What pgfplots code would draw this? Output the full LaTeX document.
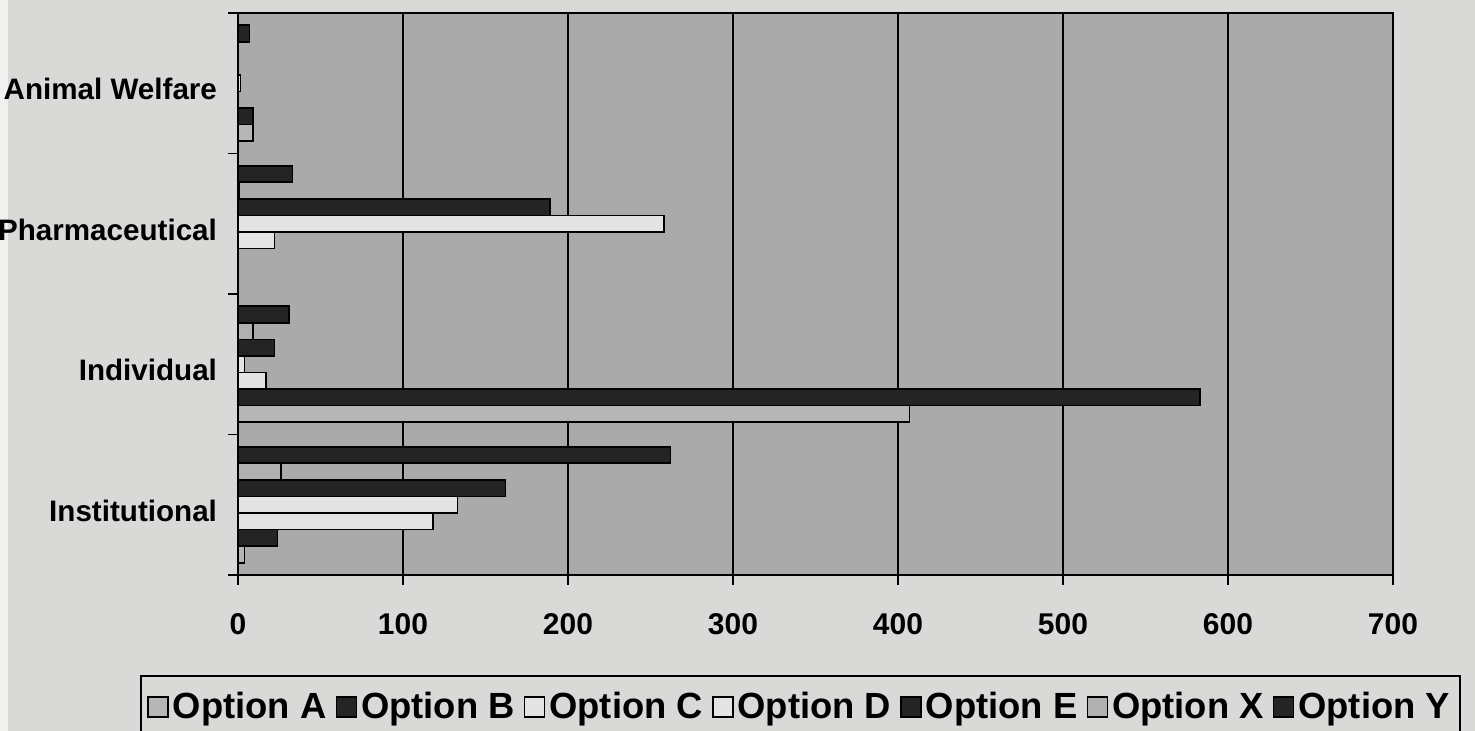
\documentclass[border=0pt]{standalone}
\usepackage{pgfplots}
\pgfplotsset{compat=1.18}
\usepackage{fontspec}
\setmainfont{Liberation Sans}
\definecolor{pagebg}{RGB}{217,217,215}
\definecolor{plotbg}{RGB}{170,170,170}
\definecolor{barblack}{RGB}{36,36,36}
\definecolor{barwhite}{RGB}{228,228,228}
\definecolor{bargray}{RGB}{182,182,182}
\definecolor{bargrayx}{RGB}{176,176,176}
\begin{document}
\begin{tikzpicture}
\path[use as bounding box] (0,0) rectangle (737.5pt,365.5pt);
\clip (0,0) rectangle (737.5pt,365.5pt);
\fill[pagebg] (0,0) rectangle (737.5pt,365.5pt);
\fill[white!60!pagebg] (0,0) rectangle (4pt,365.5pt);
\begin{axis}[
  at={(119pt,78pt)}, anchor=south west,
  scale only axis, width=577.5pt, height=281pt,
  xmin=0, xmax=700, ymin=-0.5, ymax=3.5,
  xtick={0,100,...,700},
  ytick={-0.5,0.5,1.5,2.5,3.5},
  yticklabels={},
  extra y ticks={0,1,2,3},
  extra y tick labels={Institutional,Individual,Pharmaceutical,Animal Welfare},
  extra y tick style={major tick length=0pt},
  tick pos=left,
  tick align=outside,
  major tick length=5pt,
  xmajorgrids, major grid style={black, line width=1pt},
  axis background/.style={fill=plotbg},
  axis line style={black, line width=1pt},
  tick style={black, line width=0.9pt},
  ticklabel style={font=\fontsize{15}{18}\selectfont\bfseries},
  yticklabel style={font=\fontsize{14.8}{18}\selectfont\bfseries, xshift=-7pt, yshift=-3pt},
  /pgf/number format/assume math mode=true,
  xticklabel style={yshift=-10.5pt},
  legend columns=7,
  legend style={at={(-0.0848,-0.178)}, anchor=north west, draw=black, line width=1.2pt,
    fill=pagebg, font=\fontsize{18.2}{21}\selectfont\bfseries, inner xsep=3pt, inner ysep=6pt,
    /tikz/every even column/.append style={column sep=2.5pt}},
  legend image code/.code={\draw[#1, line width=0.8pt] (0pt,-5pt) rectangle (10pt,5pt);},
]
\addplot[xbar, bar width=0.118, bar shift=-0.354, fill=bargray, draw=black, line width=0.8pt]
  coordinates {(4,0) (407,1) (0,2) (9,3)};
\addplot[xbar, bar width=0.118, bar shift=-0.236, fill=barblack, draw=black, line width=0.8pt]
  coordinates {(24,0) (583,1) (0,2) (9,3)};
\addplot[xbar, bar width=0.118, bar shift=-0.118, fill=barwhite, draw=black, line width=0.8pt]
  coordinates {(118,0) (17,1) (22,2) (0,3)};
\addplot[xbar, bar width=0.118, bar shift=0, fill=barwhite, draw=black, line width=0.8pt]
  coordinates {(133,0) (4,1) (258,2) (1.5,3)};
\addplot[xbar, bar width=0.118, bar shift=0.118, fill=barblack, draw=black, line width=0.8pt]
  coordinates {(162,0) (22,1) (189,2) (0,3)};
\addplot[xbar, bar width=0.118, bar shift=0.236, fill=bargrayx, draw=black, line width=0.8pt]
  coordinates {(26,0) (9,1) (1,2) (0,3)};
\addplot[xbar, bar width=0.118, bar shift=0.354, fill=barblack, draw=black, line width=0.8pt]
  coordinates {(262,0) (31,1) (33,2) (7,3)};
\legend{Option A,Option B,Option C,Option D,Option E,Option X,Option Y}
\end{axis}
\end{tikzpicture}
\end{document}
